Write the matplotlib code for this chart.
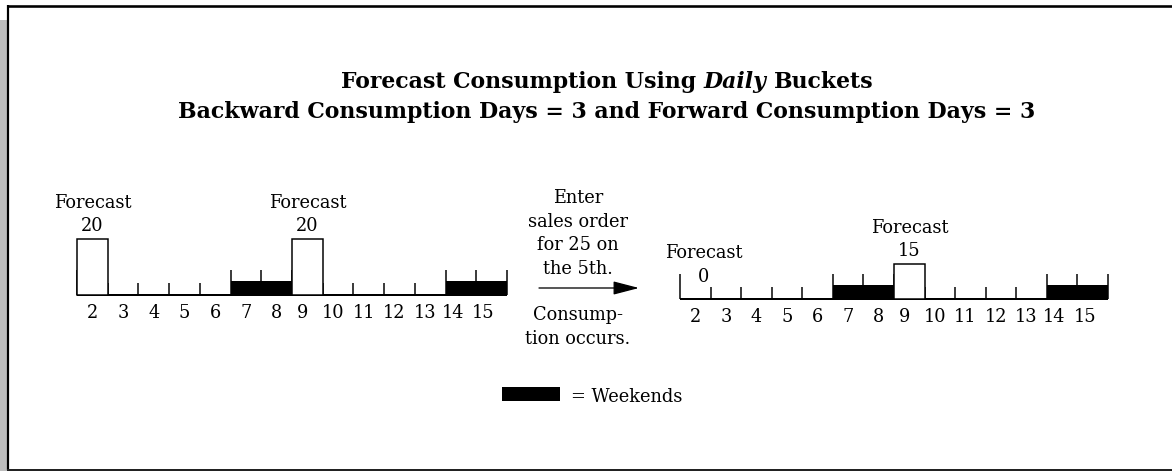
import matplotlib
matplotlib.use("Agg")
import matplotlib.pyplot as plt
from matplotlib.patches import Rectangle

# ---------------- data ----------------
days = [2, 3, 4, 5, 6, 7, 8, 9, 10, 11, 12, 13, 14, 15]
weekend_days = [7, 8, 14, 15]
forecast_days_before = [2, 9]
forecast_qty_before = [20, 20]
forecast_days_after = [2, 9]
forecast_qty_after = [0, 15]
sales_qty = 25
sales_day = 5
backward_days = 3
forward_days = 3

# ---------------- figure ----------------
W, H = 1172, 471
PX = 0.72  # points per pixel at dpi 100
SERIF = "DejaVu Serif"

fig = plt.figure(figsize=(W / 100, H / 100), dpi=100)
ov = fig.add_axes([0, 0, 1, 1])
ov.set_xlim(0, W)
ov.set_ylim(H, 0)
ov.axis("off")
renderer = fig.canvas.get_renderer()


def text_width(s, size, **kw):
    t = ov.text(0, 0, s, fontsize=size, family=SERIF, **kw)
    w = t.get_window_extent(renderer).width
    t.remove()
    return w


def fit(s, target, **kw):
    return 20 * target / text_width(s, 20, **kw)


# frame
ov.add_patch(Rectangle((0, 20), 7, H - 20, facecolor="#bdbdbd", edgecolor="none"))
ov.plot([7.5, 7.5], [5, 469.5], color="black", lw=2.2 * PX, solid_capstyle="butt")
ov.plot([7, W], [5.5, 5.5], color="black", lw=2.6 * PX, solid_capstyle="butt")
ov.plot([7, W], [469.5, 469.5], color="#222222", lw=2 * PX, solid_capstyle="butt")

# ---------------- title ----------------
line2 = (f"Backward Consumption Days = {backward_days} and "
         f"Forward Consumption Days = {forward_days}")
tsize = fit(line2, 860, weight="bold")
cx = 607
ov.text(cx, 118, line2, fontsize=tsize, family=SERIF, weight="bold",
        ha="center", va="baseline")

pieces = [("Forecast Consumption Using", "normal"), ("Daily", "italic"), ("Buckets", "normal")]
space = text_width("x x", tsize, weight="bold") - text_width("xx", tsize, weight="bold")
widths = [text_width(p, tsize, weight="bold", style=st) for p, st in pieces]
total = sum(widths) + space * (len(pieces) - 1)
x = cx - total / 2
for (p, st), w in zip(pieces, widths):
    ov.text(x, 88, p, fontsize=tsize, family=SERIF, weight="bold", style=st,
            ha="left", va="baseline")
    x += w + space

# body font size
bsize = fit("sales order", 100)


def label_dx(d):
    # typeset-row look of the original: two-digit labels drift slightly left
    if d >= 14:
        return -8
    if d >= 9:
        return -5
    return 0


# ---------------- timelines ----------------
def draw_timeline(x0, x1, base_y, px_per_unit, fdays, fqty):
    hpx = 130
    ax = fig.add_axes([x0 / W, (H - base_y) / H, (x1 - x0) / W, hpx / H])
    ax.set_xlim(days[0] - 0.5, days[-1] + 0.5)
    ax.set_ylim(0, hpx / px_per_unit)
    ax.axis("off")
    ax.patch.set_visible(False)
    u = 1.0 / px_per_unit

    wk = ax.bar(weekend_days, [14.5 * u] * len(weekend_days), width=1.0,
                color="black", linewidth=0, zorder=2)
    for p in wk:
        p.set_clip_on(False)

    bounds = [d - 0.5 for d in days] + [days[-1] + 0.5]
    for b in bounds:
        tall = (b - 0.5 in weekend_days) or (b + 0.5 in weekend_days) \
            or b == bounds[0] or b == bounds[-1]
        ax.vlines(b, 0, (25 if tall else 12.5) * u, color="black",
                  lw=1.5 * PX, zorder=3, clip_on=False)

    ax.plot([bounds[0], bounds[-1]], [0, 0], color="black", lw=2 * PX,
            solid_capstyle="butt", zorder=4, clip_on=False)

    for d, q in zip(fdays, fqty):
        if q > 0:
            bc = ax.bar([d], [q], width=1.0, facecolor="white",
                        edgecolor="black", lw=1.5 * PX, zorder=5)
            for p in bc:
                p.set_clip_on(False)
            dx, y_val, y_lab = 0, 8, 31
        else:
            dx, y_val, y_lab = 8, 17, 41
        ax.annotate(str(q), xy=(d, q), xytext=(dx, y_val), textcoords="offset pixels",
                    ha="center", va="baseline", fontsize=bsize, family=SERIF)
        ax.annotate("Forecast", xy=(d, q), xytext=(dx, y_lab), textcoords="offset pixels",
                    ha="center", va="baseline", fontsize=bsize, family=SERIF)

    for d in days:
        ax.annotate(str(d), xy=(d, 0), xytext=(label_dx(d), -23.5),
                    textcoords="offset pixels",
                    ha="center", va="baseline", fontsize=bsize, family=SERIF)
    return ax


draw_timeline(77, 507, 295, 56 / 20, forecast_days_before, forecast_qty_before)
draw_timeline(680, 1108, 299, 35 / 15, forecast_days_after, forecast_qty_after)

# ---------------- middle text & arrow ----------------
mid_top = ["Enter", "sales order", f"for {sales_qty} on", f"the {sales_day}th."]
for i, s in enumerate(mid_top):
    ov.text(578, 203 + i * 23.7, s, fontsize=bsize, family=SERIF,
            ha="center", va="baseline")
ov.annotate("", xy=(639, 288), xytext=(539, 288),
            arrowprops=dict(arrowstyle="-|>,head_length=1.0,head_width=0.26",
                            color="black", lw=1.3 * PX,
                            mutation_scale=16, shrinkA=0, shrinkB=0))
for i, s in enumerate(["Consump-", "tion occurs."]):
    ov.text(578, 320 + i * 23.5, s, fontsize=bsize, family=SERIF,
            ha="center", va="baseline")

# ---------------- legend ----------------
ov.add_patch(Rectangle((502, 387), 58, 14, facecolor="black", edgecolor="none"))
ov.text(571, 401.5, "= Weekends", fontsize=bsize, family=SERIF,
        ha="left", va="baseline")

fig.savefig("out.png", dpi=100)
